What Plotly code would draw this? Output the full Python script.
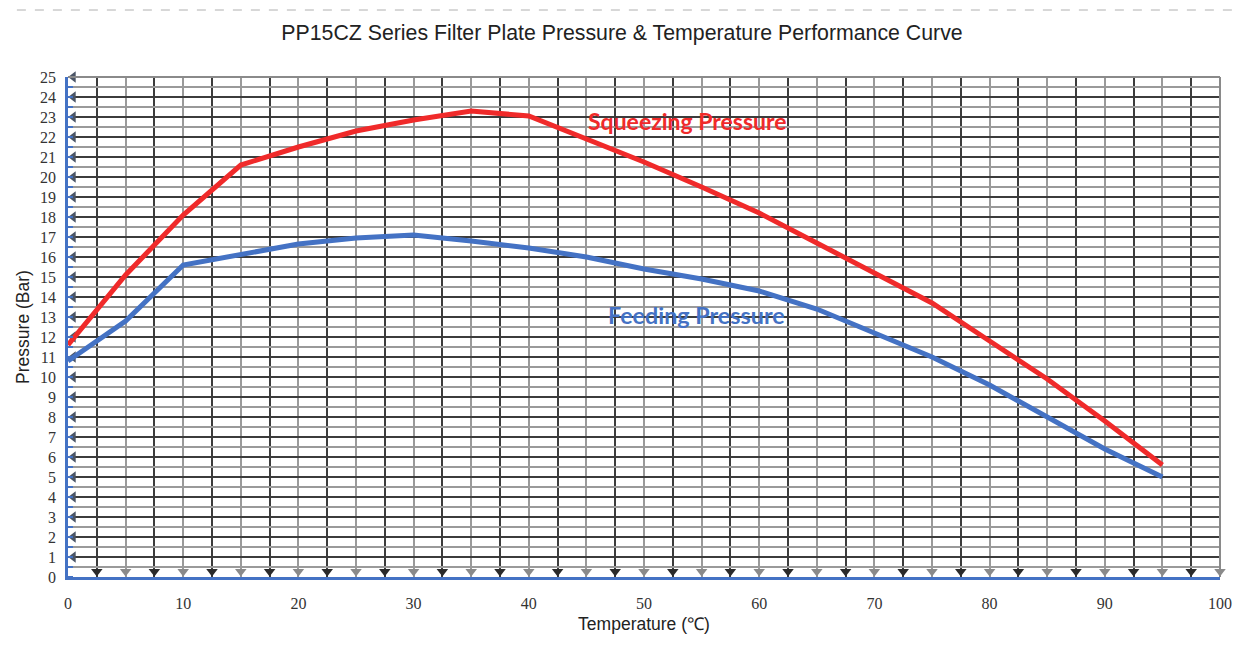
import plotly.graph_objects as go

# ---- data ----
temperature = [0, 5, 10, 15, 20, 25, 30, 35, 40, 45, 50, 55, 60, 65, 70, 75, 80, 85, 90, 95]
squeezing = [11.6, 15.1, 18.1, 20.6, 21.5, 22.3, 22.85, 23.3, 23.05, 21.9, 20.75, 19.5, 18.2, 16.7, 15.2, 13.7, 11.8, 9.9, 7.8, 5.6]
feeding = [10.8, 12.8, 15.6, 16.1, 16.65, 16.95, 17.1, 16.8, 16.45, 16.0, 15.4, 14.9, 14.3, 13.4, 12.2, 11.0, 9.6, 8.0, 6.4, 5.0]

x_tick_vals = [0, 5, 10, 15, 20, 25, 30, 35, 40, 45, 50, 55, 60, 65, 70, 75, 80, 85, 90, 95, 100]
x_tick_text = ["0", "", "10", "", "20", "", "30", "", "40", "", "50", "", "60", "", "70", "", "80", "", "90", "", "100"]
y_tick_vals = list(range(0, 26))

y_arrow_vals = list(range(1, 26))
x_arrow_dark = [2.5, 7.5, 12.5, 17.5, 22.5, 27.5, 32.5, 37.5, 42.5, 47.5, 52.5, 57.5, 62.5, 67.5, 72.5, 77.5, 82.5, 87.5, 92.5, 97.5]
x_arrow_gray = [5, 10, 15, 20, 25, 30, 35, 40, 45, 50, 55, 60, 65, 70, 75, 80, 85, 90, 95, 100]

title_text = "PP15CZ Series Filter Plate Pressure &amp; Temperature Performance Curve"
RED = "#f02a2a"
BLUE = "#4472c4"
DARK = "#3c3c3c"
GRAY = "#9a9a9a"

fig = go.Figure()

# arrow markers on the axes
fig.add_trace(go.Scatter(
    x=[0.45] * len(y_arrow_vals), y=y_arrow_vals, mode="markers",
    marker=dict(symbol="triangle-left", size=10, color="#4b5566"),
    hoverinfo="skip", showlegend=False, cliponaxis=False))
fig.add_trace(go.Scatter(
    x=x_arrow_dark, y=[0.28] * len(x_arrow_dark), mode="markers",
    marker=dict(symbol="triangle-down", size=10, color="#2a2a2a"),
    hoverinfo="skip", showlegend=False, cliponaxis=False))
fig.add_trace(go.Scatter(
    x=x_arrow_gray, y=[0.28] * len(x_arrow_gray), mode="markers",
    marker=dict(symbol="triangle-down", size=10, color="#8a8a8a"),
    hoverinfo="skip", showlegend=False, cliponaxis=False))

# curves
fig.add_trace(go.Scatter(x=temperature, y=squeezing, mode="lines",
                         line=dict(color=RED, width=5), name="Squeezing Pressure",
                         showlegend=False))
fig.add_trace(go.Scatter(x=temperature, y=feeding, mode="lines",
                         line=dict(color=BLUE, width=5), name="Feeding Pressure",
                         showlegend=False))

fig.add_annotation(x=53.8, y=22.8, text="<b>Squeezing Pressure</b>", showarrow=False,
                   font=dict(family="Lato", size=23, color=RED))
fig.add_annotation(x=54.6, y=13.1, text="<b>Feeding Pressure</b>", showarrow=False,
                   font=dict(family="Lato", size=23.3, color=BLUE))

# top / right frame lines
fig.add_shape(type="line", xref="paper", yref="paper", x0=0, x1=1, y0=1, y1=1,
              line=dict(color="#8a8a8a", width=2), layer="above")
fig.add_shape(type="line", xref="paper", yref="paper", x0=1, x1=1, y0=0, y1=1,
              line=dict(color="#8a8a8a", width=2), layer="above")
# dashed page border on top
fig.add_shape(type="line", xref="paper", yref="paper", x0=-0.06, x1=1.03, y0=1.134, y1=1.134,
              line=dict(color="#b0b0b0", width=1, dash="dash"))

fig.update_layout(
    width=1245, height=648,
    margin=dict(l=60, r=33, t=69, b=79, autoexpand=False),
    paper_bgcolor="white", plot_bgcolor="white",
    title=dict(text=title_text, x=(622 - 8) / 1245, xanchor="center", y=1 - 25 / 648, yanchor="middle",
               yref="container", font=dict(family="Liberation Sans", size=21.3, color="#222222")),
    xaxis=dict(range=[0, 100], tickmode="array", tickvals=x_tick_vals, ticktext=x_tick_text,
               automargin=False,
               showgrid=True, gridcolor=GRAY, gridwidth=1.6, zeroline=False,
               showline=True, linecolor=BLUE, linewidth=2.5, ticks="",
               ticklabelstandoff=10,
               tickfont=dict(family="Liberation Serif", size=16, color="#333333"),
               minor=dict(tickmode="linear", tick0=0, dtick=2.5, showgrid=True,
                          gridcolor=DARK, gridwidth=1.6, ticks=""),
               title=dict(text="Temperature (℃)", standoff=7,
                          font=dict(family="Liberation Sans", size=17.5, color="#222222"))),
    yaxis=dict(range=[0, 25], tickmode="array", tickvals=y_tick_vals,
               automargin=False,
               showgrid=True, gridcolor=DARK, gridwidth=1.6, zeroline=False,
               showline=True, linecolor=BLUE, linewidth=2.5, ticks="",
               ticklabelstandoff=6,
               tickfont=dict(family="Liberation Serif", size=16, color="#333333"),
               minor=dict(tickmode="linear", tick0=0, dtick=0.5, showgrid=True,
                          gridcolor=GRAY, gridwidth=1.6, ticks="inside", ticklen=5,
                          tickcolor=BLUE, tickwidth=1.5),
               title=dict(text="Pressure (Bar)", standoff=6,
                          font=dict(family="Liberation Sans", size=17.5, color="#222222"))),
)

fig.write_html("out.html")
